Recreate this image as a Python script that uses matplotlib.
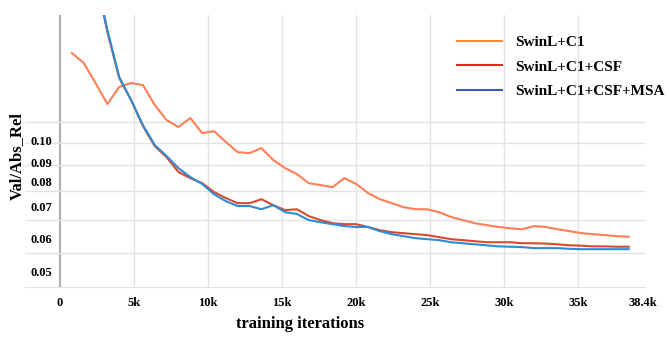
import numpy as np
from matplotlib import pyplot as plt
from matplotlib.lines import Line2D

# iterations (k), one eval every 800 iterations
iters = [0.8 * i for i in range(1, 49)]

swin_c1 = [0.1514, 0.1446, 0.1318, 0.1196, 0.1294, 0.1318, 0.1305, 0.1190,
           0.1110, 0.1075, 0.1121, 0.1045, 0.1055, 0.1003, 0.0957, 0.0953,
           0.0975, 0.0923, 0.0889, 0.0865, 0.0829, 0.0822, 0.0814, 0.0849,
           0.0826, 0.0792, 0.0770, 0.0756, 0.0742, 0.0735, 0.0735, 0.0725,
           0.0709, 0.0699, 0.0689, 0.0683, 0.0677, 0.0673, 0.0670, 0.0680,
           0.0677, 0.0670, 0.0664, 0.0658, 0.0655, 0.0652, 0.0649, 0.0647]

swin_c1_csf = [0.37, 0.28, 0.215, 0.1669, 0.1349, 0.1218, 0.1080, 0.0984,
               0.0935, 0.0873, 0.0849, 0.0829, 0.0796, 0.0774, 0.0756, 0.0756,
               0.0770, 0.0749, 0.0732, 0.0735, 0.0712, 0.0699, 0.0689, 0.0686,
               0.0686, 0.0677, 0.0667, 0.0661, 0.0658, 0.0655, 0.0652, 0.0646,
               0.0640, 0.0637, 0.0634, 0.0631, 0.0631, 0.0631, 0.0628, 0.0628,
               0.0627, 0.0625, 0.0622, 0.0621, 0.0619, 0.0619, 0.0618, 0.0618]

swin_c1_csf_msa = [0.37, 0.28, 0.217, 0.1684, 0.1355, 0.1218, 0.1085, 0.0989,
                   0.0940, 0.0889, 0.0853, 0.0826, 0.0788, 0.0763, 0.0746, 0.0746,
                   0.0735, 0.0749, 0.0725, 0.0719, 0.0699, 0.0692, 0.0686, 0.0680,
                   0.0677, 0.0677, 0.0664, 0.0655, 0.0649, 0.0643, 0.0640, 0.0637,
                   0.0631, 0.0628, 0.0625, 0.0622, 0.0619, 0.0618, 0.0617, 0.0614,
                   0.0614, 0.0614, 0.0612, 0.0611, 0.0611, 0.0611, 0.0611, 0.0611]

labels = ['SwinL+C1', 'SwinL+C1+CSF', 'SwinL+C1+CSF+MSA']

x_ticks = [0, 5, 10, 15, 20, 25, 30, 35, 38.4]
x_tick_labels = ['0', '5k', '10k', '15k', '20k', '25k', '30k', '35k', '38.4k']
y_grid = [0.06, 0.07, 0.08, 0.09, 0.10, 0.11]
y_tick_labels = ['0.10', '0.09', '0.08', '0.07', '0.06', '0.05']

plt.rcParams['font.family'] = 'Liberation Serif'
plt.rcParams['font.weight'] = 'bold'

fig = plt.figure(figsize=(6.69, 3.37), dpi=100)
ax = fig.add_axes([0.0374, 0.1484, 0.9268, 0.8071])

ax.plot(iters, swin_c1, color='#ff7f55', lw=1.5)
ax.plot(iters, swin_c1_csf, color='#d94a2c', lw=1.5)
ax.plot(iters, swin_c1_csf_msa, color='#2f8bd6', lw=1.5)

ax.set_yscale('log')
ax.set_xlim(-2.36, 39.5)
ax.set_ylim(0.0513, 0.1805)

ax.set_yticks(y_grid)
ax.set_yticklabels([])
ax.yaxis.set_minor_locator(plt.NullLocator())
ax.tick_params(axis='y', length=0)
ax.set_xticks(x_ticks)
ax.set_xticklabels(x_tick_labels, fontsize=9, fontweight='bold')
ax.get_xticklabels()[-1].set_ha('left')
ax.tick_params(axis='x', length=0, pad=7)

ax.grid(True, color='#e3e3e3', lw=1)
ax.xaxis.grid(False)
for xv in x_ticks[1:-1]:
    ax.axvline(xv, color='#e3e3e3', lw=1, zorder=0)
ax.axvline(0, color='#b0b0b0', lw=1.5, zorder=1)

for s in ['top', 'right', 'left']:
    ax.spines[s].set_visible(False)
ax.spines['bottom'].set_color('#e3e3e3')

# y labels as they sit in the original figure
y_label_pos = [0.533, 0.452, 0.382, 0.290, 0.173, 0.051]
for lab, pos in zip(y_tick_labels, y_label_pos):
    ax.text(-0.55, pos, lab, transform=ax.get_xaxis_transform(), ha='right',
            va='center', fontsize=9, fontweight='bold')

fig.text(0.026, 0.537, 'Val/Abs_Rel', rotation=90, ha='center', va='center',
         fontsize=12, fontweight='bold')
fig.text(0.448, 0.04, 'training iterations', ha='center', va='center',
         fontsize=12, fontweight='bold')

handles = [Line2D([], [], color='#f58a3c', lw=1.5),
           Line2D([], [], color='#e8261e', lw=1.5),
           Line2D([], [], color='#3c5cb4', lw=1.5)]
leg = ax.legend(handles, labels, loc='upper left', bbox_to_anchor=(0.675, 0.975),
                frameon=False, prop={'size': 11, 'weight': 'bold'},
                handlelength=2.9, handletextpad=0.9, labelspacing=0.7)

plt.savefig('out.png', dpi=100)
